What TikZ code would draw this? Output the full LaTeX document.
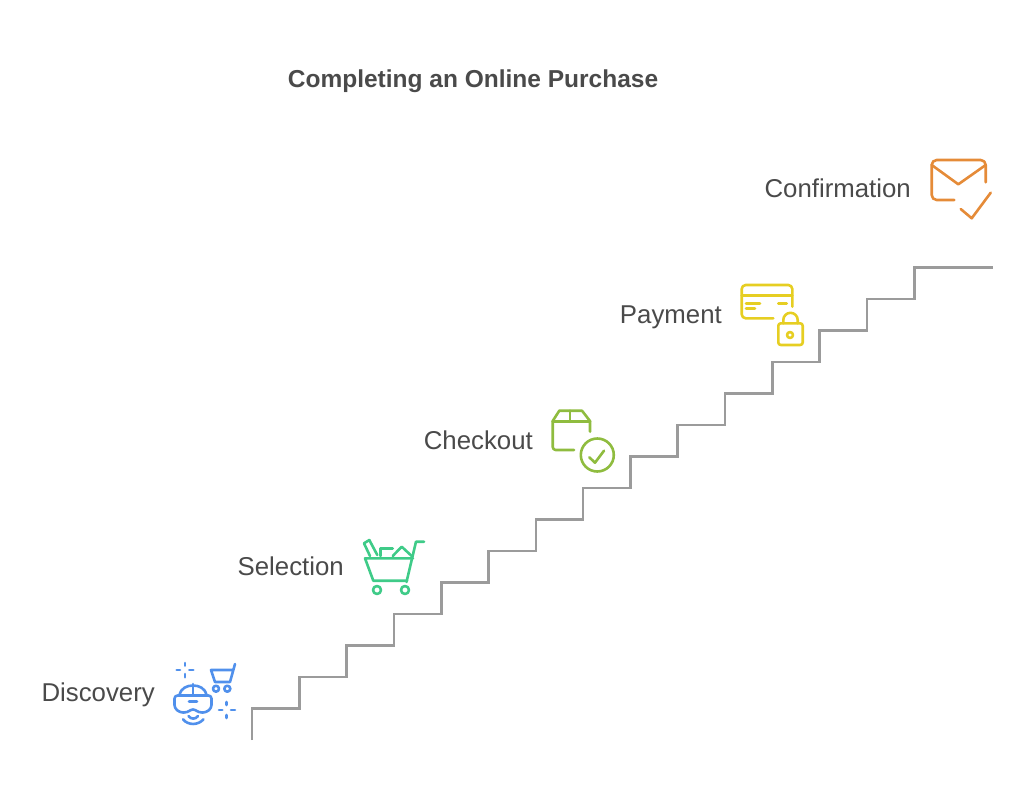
\documentclass[tikz,border=0pt]{standalone}
\usepackage{fontspec}
\setmainfont{Liberation Sans}
\definecolor{inktext}{HTML}{4A4A4A}
\definecolor{stairgray}{HTML}{9B9B9B}
\definecolor{bluelin}{HTML}{5090EC}
\definecolor{greenlin}{HTML}{3FCB88}
\definecolor{olivelin}{HTML}{8FBC3F}
\definecolor{yellowlin}{HTML}{E6CE22}
\definecolor{orangelin}{HTML}{E58B38}
\tikzset{
    steplabel/.style={anchor=base east,text=inktext,inner sep=0pt,font=\fontsize{25.8}{30}\selectfont},
    titlelabel/.style={text=inktext,inner sep=0pt,font=\fontsize{24.5}{30}\selectfont\bfseries},
    iconline/.style={line width=2.6pt,line cap=round,line join=round}
}

\begin{document}
\begin{tikzpicture}[x=1pt,y=-1pt]
    \useasboundingbox (0,0) rectangle (1024,803);
    \node[titlelabel] (title) at (473,81) {Completing an Online Purchase};

    %stairs
    \draw[stairgray,line width=2.6pt] (252,740) -- (252,708.5) -- (299.3,708.5) -- (299.3,677) -- (346.6,677) -- (346.6,645.5) -- (393.9,645.5) -- (393.9,614) -- (441.2,614) -- (441.2,582.5) -- (488.5,582.5) -- (488.5,551) -- (535.8,551) -- (535.8,519.5) -- (583.1,519.5) -- (583.1,488) -- (630.4,488) -- (630.4,456.5) -- (677.7,456.5) -- (677.7,425) -- (725,425) -- (725,393.5) -- (772.3,393.5) -- (772.3,362) -- (819.6,362) -- (819.6,330.5) -- (866.9,330.5) -- (866.9,299) -- (914.2,299) -- (914.2,267.5) -- (993,267.5);

    %discovery
    \node[steplabel] (discovery) at (155,701.7) {Discovery};
    \begin{scope}[iconline,bluelin]
        \draw (185,663) -- (185,665.7);
        \draw (185,674) -- (185,677.3);
        \draw (176.7,670) -- (180,670);
        \draw (189.3,670) -- (193.3,670);
        \draw (226.7,702) -- (226.7,705);
        \draw (226.7,715) -- (226.7,718);
        \draw (219,710) -- (222.3,710);
        \draw (231,710) -- (235,710);
        \draw (235,664) -- (230,682) -- (215,682) -- (211,670) -- (232.5,670);
        \draw (216,688.7) circle [radius=3];
        \draw (227.3,688.7) circle [radius=3];
        \draw (179.5,695) .. controls (181,688) and (187,685.5) .. (193,685.5) .. controls (199,685.5) and (205,688) .. (206.5,695);
        \draw (193,684) -- (193,695);
        \draw[rounded corners=3] (193,695.5) -- (211.5,695.5) -- (211.5,708) -- (206,712.5) -- (199,712.5) -- (193,708.5) -- (187,712.5) -- (180,712.5) -- (174.5,708) -- (174.5,695.5) -- cycle;
        \draw (189,701.5) -- (197,701.5);
        \draw (183,719.3) .. controls (188,725.5) and (198,725.5) .. (203.5,719.3);
        \draw (188.5,716) .. controls (191,719.5) and (195.5,719.5) .. (198,716);
    \end{scope}

    %selection
    \node[steplabel] (selection) at (344,575.7) {Selection};
    \begin{scope}[iconline,greenlin]
        \draw (424,541.7) -- (416,541.7) -- (406.5,582);
        \draw (413,558.3) -- (365,558.3) -- (373.3,580.7) -- (407,580.7);
        \draw (370,556) -- (364,543.3) -- (369.3,540) -- (377.3,555);
        \draw (380.7,556) -- (380.7,548.3) -- (392.7,548.3);
        \draw (392.7,556) -- (401.7,546.7) -- (411.7,556);
        \draw (377,590) circle [radius=4];
        \draw (405,590) circle [radius=4];
    \end{scope}

    %checkout
    \node[steplabel] (checkout) at (533,449.7) {Checkout};
    \begin{scope}[iconline,olivelin]
        \draw[rounded corners=3] (574,450) -- (552.7,450) -- (552.7,421);
        \draw (552.7,421) -- (559.3,410.7) -- (582,410.7) -- (590,421) -- (590,431.7);
        \draw (552.7,421.7) -- (590,421.7);
        \draw (570,410.7) -- (570,421.7);
        \draw (597.3,455) circle [radius=16.5];
        \draw (589.3,457.3) -- (595,462.7) -- (604,450.7);
    \end{scope}

    %payment
    \node[steplabel] (payment) at (722,323.7) {Payment};
    \begin{scope}[iconline,yellowlin]
        \draw[rounded corners=4] (773.3,318.3) -- (741.7,318.3) -- (741.7,285) -- (792.3,285) -- (792.3,306.7);
        \draw (741.7,295.7) -- (792.3,295.7);
        \draw (746,303.3) -- (760,303.3);
        \draw (746,308.3) -- (755,308.3);
        \draw (778.3,303.3) -- (786.7,303.3);
        \draw[rounded corners=2.5] (778.3,323.3) rectangle (802.7,345);
        \draw (783.3,323.3) -- (783.3,320) arc [start angle=180,end angle=360,radius=7.2] -- (797.7,323.3);
        \draw (790,335) circle [radius=3];
    \end{scope}

    %confirmation
    \node[steplabel] (confirmation) at (911,197.7) {Confirmation};
    \begin{scope}[iconline,orangelin]
        \draw[rounded corners=5] (954.3,200) -- (931.7,200) -- (931.7,160) -- (985.7,160) -- (985.7,182.3);
        \draw (931.7,165) -- (958.3,184.3) -- (985.7,165);
        \draw (960.7,209) -- (971.7,218.3) -- (990.7,192.7);
    \end{scope}
\end{tikzpicture}
\end{document}
